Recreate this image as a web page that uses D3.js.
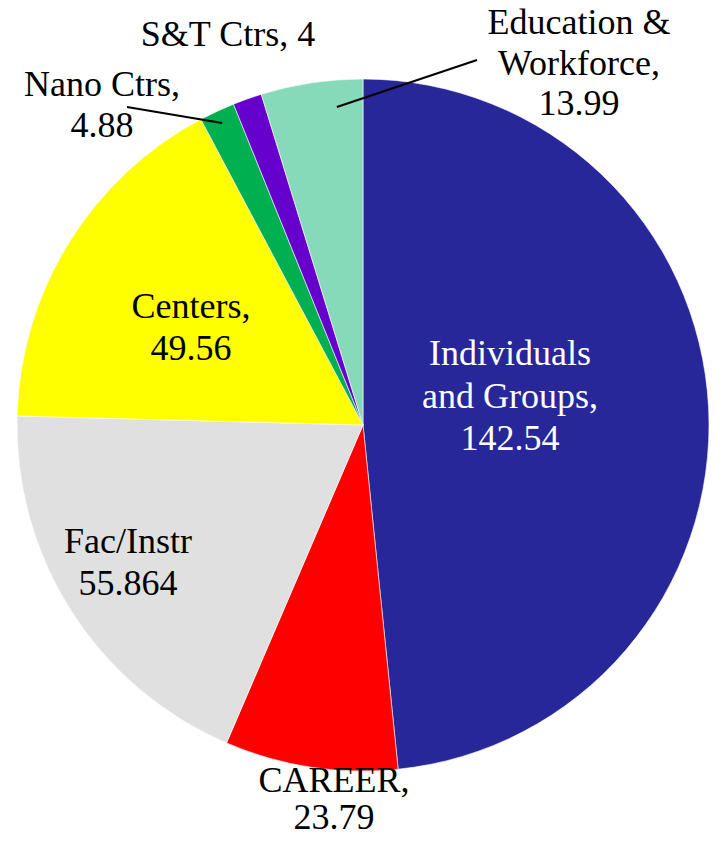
<!DOCTYPE html>
<html>
<head>
<meta charset="utf-8">
<script src="https://cdn.jsdelivr.net/npm/d3@7"></script>
<style>
  body { margin: 0; font-family: "Liberation Serif", "Times New Roman", Times, serif; }
  svg text { font-family: "Liberation Serif", "Times New Roman", Times, serif; }
</style>
</head>
<body>
<svg id="chart" width="721" height="843" style="display:block" font-family="Liberation Serif, Times New Roman, serif"></svg>
<script>
// Data
const categories = ["Individuals and Groups", "CAREER", "Fac/Instr", "Centers", "Nano Ctrs", "S\u0026T Ctrs", "Education \u0026 Workforce"];
const values = [142.54, 23.79, 55.864, 49.56, 4.88, 4, 13.99];
const valueLabels = ["142.54", "23.79", "55.864", "49.56", "4.88", "4", "13.99"];
const colors = ["#27279A", "#FF0000", "#E0E0E0", "#FFFF00", "#00B050", "#6600CC", "#86D9B9"];

// Label text lines (presentation)
const labelLines = [
  ["Individuals", "and Groups,", valueLabels[0]],
  ["CAREER,", valueLabels[1]],
  ["Fac/Instr", valueLabels[2]],
  ["Centers,", valueLabels[3]],
  ["Nano Ctrs,", valueLabels[4]],
  ["S\u0026T Ctrs, " + valueLabels[5]],
  ["Education \u0026", "Workforce,", valueLabels[6]]
];
const labelLayout = [
  { x: 510, y: 365, dy: 42.5, fill: "#fff" },
  { x: 334, y: 792, dy: 37, fill: "#000" },
  { x: 128, y: 553, dy: 42, fill: "#000" },
  { x: 191, y: 318, dy: 42, fill: "#000" },
  { x: 102, y: 96, dy: 41, fill: "#000" },
  { x: 228, y: 46, dy: 41, fill: "#000" },
  { x: 579, y: 34, dy: 40.5, fill: "#000" }
];
// leader lines: from label point to a point inside the slice (angle in degrees clockwise from top, radius fraction)
const leaders = [
  { from: [127, 107], angle: 335.0, rf: 0.963 },
  { from: [477, 60], angle: 355.3, rf: 0.922 }
];

const cx = 363, cy = 425, R = 346;
const svg = d3.select("#chart");
const g = svg.append("g").attr("transform", `translate(${cx},${cy})`);

const data = categories.map((c, i) => ({ name: c, value: values[i], i }));
const pie = d3.pie().sort(null).value(d => d.value).startAngle(0).endAngle(2 * Math.PI);
const arcs = pie(data);
const arc = d3.arc().innerRadius(0).outerRadius(R);

g.selectAll("path.slice")
  .data(arcs)
  .join("path")
  .attr("class", "slice")
  .attr("d", arc)
  .attr("fill", d => colors[d.data.i])
  .attr("stroke", "#ffffff")
  .attr("stroke-width", 0.6);

// leader lines
leaders.forEach(l => {
  const a = l.angle * Math.PI / 180;
  const r = R * l.rf;
  svg.append("line")
    .attr("x1", l.from[0]).attr("y1", l.from[1])
    .attr("x2", cx + r * Math.sin(a)).attr("y2", cy - r * Math.cos(a))
    .attr("stroke", "#000").attr("stroke-width", 2);
});

// labels: one text element per line
labelLines.forEach((lines, i) => {
  const L = labelLayout[i];
  lines.forEach((ln, k) => {
    svg.append("text")
      .attr("x", L.x).attr("y", L.y + k * L.dy)
      .attr("text-anchor", "middle")
      .attr("font-size", 36)
      .attr("font-family", "Liberation Serif")
      .style("font-family", '"Liberation Serif", "Times New Roman", serif')
      .attr("fill", L.fill)
      .text(ln);
  });
});
</script>
</body>
</html>
